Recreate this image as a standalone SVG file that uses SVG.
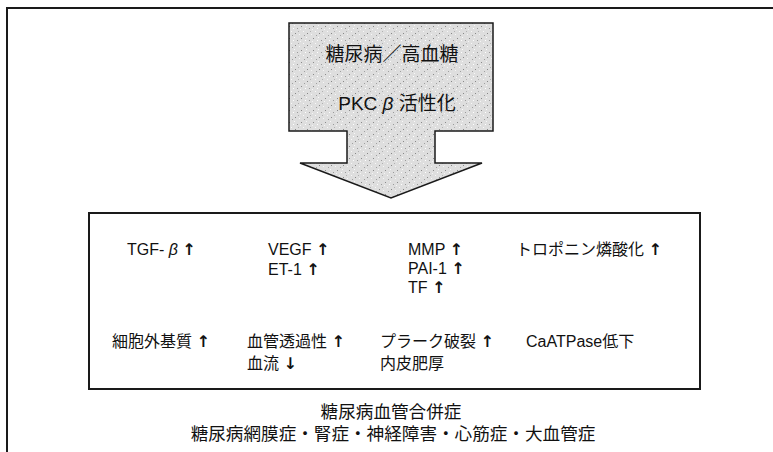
<svg xmlns="http://www.w3.org/2000/svg" width="773" height="452" viewBox="0 0 773 452">
<style>
text{font-family:"Liberation Sans","Noto Sans CJK JP",sans-serif;fill:#111;}
.t{font-size:16px;}
.h{font-size:19px;text-anchor:middle;}
.b{font-size:17.6px;text-anchor:middle;}
.a{font-family:"DejaVu Sans",sans-serif;font-weight:bold;fill:#111;}
.line{fill:none;stroke:#1a1a1a;stroke-width:2;}
</style>
<defs>
<pattern id="stip" width="12" height="12" patternUnits="userSpaceOnUse">
<rect width="12" height="12" fill="#dedede"/>
<rect x="1" y="2" width="1" height="1" fill="#8a8a8a"/>
<rect x="6" y="1" width="1" height="1" fill="#f8f8f8"/>
<rect x="9" y="4" width="1" height="1" fill="#9a9a9a"/>
<rect x="3" y="7" width="1" height="1" fill="#f8f8f8"/>
<rect x="7" y="9" width="1" height="1" fill="#888"/>
<rect x="11" y="10" width="1" height="1" fill="#f6f6f6"/>
<rect x="4" y="11" width="1" height="1" fill="#a0a0a0"/>
<rect x="10" y="7" width="1" height="1" fill="#b0b0b0"/>
<rect x="0" y="5" width="1" height="1" fill="#f4f4f4"/>
<rect x="5" y="4" width="1" height="1" fill="#ffffff"/>
</pattern>
</defs>
<rect width="773" height="452" fill="#fff"/>
<g id="frame">
<path class="line" d="M7,452 V8 H773"/>
</g>
<g id="source">
<polygon points="289,23 493,23 493,131 435,131 435,163 482,163 391,198 300,163 347,163 347,131 289,131" fill="url(#stip)" stroke="#1a1a1a" stroke-width="1.5"/>
<text class="h" x="392" y="61">糖尿病／高血糖</text>
<text class="h" x="397" y="110">PKC <tspan font-style="italic">β</tspan> 活性化</text>
</g>
<g id="effects">
<rect x="89" y="213" width="611" height="176" class="line"/>
<text class="t" x="127" y="255">TGF- <tspan font-style="italic">β</tspan> <tspan class="a">↑</tspan></text>
<text class="t" x="268" y="255">VEGF <tspan class="a">↑</tspan></text>
<text class="t" x="268" y="275">ET-1 <tspan class="a">↑</tspan></text>
<text class="t" x="408" y="255">MMP <tspan class="a">↑</tspan></text>
<text class="t" x="408" y="274">PAI-1 <tspan class="a">↑</tspan></text>
<text class="t" x="408" y="293">TF <tspan class="a">↑</tspan></text>
<text class="t" x="516" y="255">トロポニン燐酸化 <tspan class="a">↑</tspan></text>
<text class="t" x="112" y="347">細胞外基質 <tspan class="a">↑</tspan></text>
<text class="t" x="247" y="347">血管透過性 <tspan class="a">↑</tspan></text>
<text class="t" x="247" y="369">血流 <tspan class="a">↓</tspan></text>
<text class="t" x="380" y="347">プラーク破裂 <tspan class="a">↑</tspan></text>
<text class="t" x="380" y="369">内皮肥厚</text>
<text class="t" x="526" y="347">CaATPase低下</text>
</g>
<g id="outcome">
<text class="b" x="391" y="418">糖尿病血管合併症</text>
<text class="b" x="393" y="440">糖尿病網膜症・腎症・神経障害・心筋症・大血管症</text>
</g>
</svg>
